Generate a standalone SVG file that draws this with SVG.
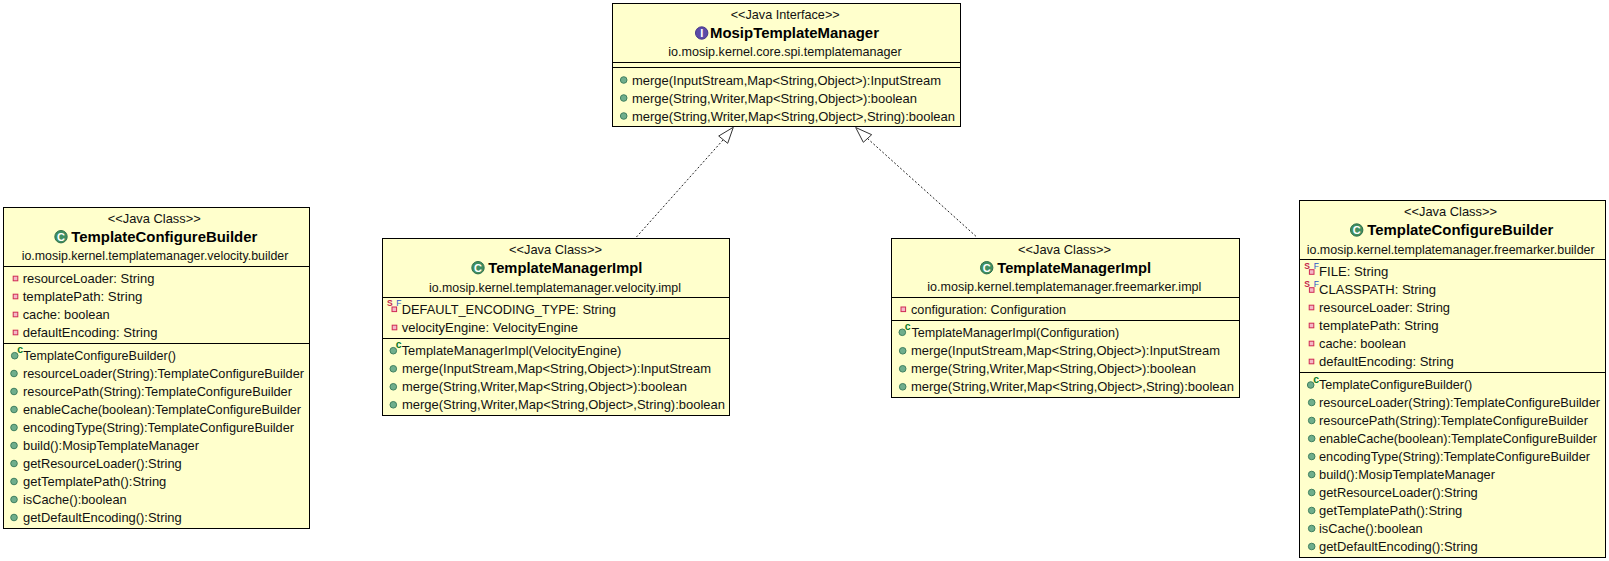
<svg xmlns="http://www.w3.org/2000/svg" xmlns:xlink="http://www.w3.org/1999/xlink" width="1609" height="561" viewBox="0 0 1609 561">
<style>
text{font-family:"Liberation Sans",Arial,sans-serif;font-size:13px;fill:#111}
.n{font-weight:bold;font-size:15px;fill:#000}
.box{fill:#ffffcc;stroke:#000;stroke-width:1}
.sep{stroke:#000;stroke-width:1;fill:none}
.dep{stroke:#222;stroke-width:1;stroke-dasharray:2 2;fill:none}
.head{stroke:#333;stroke-width:1;fill:#fff}
.ic{font-size:11px;font-weight:bold;fill:#fff;text-anchor:middle}
.sm{font-size:8.5px;text-anchor:middle}
</style>
<defs>
<g id="dot"><circle r="3.3" fill="#6fae8c" stroke="#3f7f5f" stroke-width="1"/></g>
<g id="priv"><rect x="-2.3" y="-2.3" width="4.6" height="4.6" fill="#f4b8c6" stroke="#cf2a55" stroke-width="1"/></g>
<g id="cls"><circle r="6.2" fill="#3f8f62" stroke="#2f6f4a" stroke-width="1"/><text class="ic" y="3.9">C</text></g>
<g id="ifc"><circle r="6.2" fill="#5b4aa8" stroke="#45368a" stroke-width="1"/><text class="ic" y="3.9">I</text></g>
<g id="ctor"><use href="#dot"/><text class="sm" x="5.4" y="-2.5" style="fill:#0a7a2a;font-size:10.5px;font-weight:bold">c</text></g>
<g id="sf"><use href="#priv"/><text class="sm" x="-4.6" y="-3" style="fill:#c4244c;font-weight:bold">S</text><text class="sm" x="4.6" y="-3" style="fill:#2a56c6">F</text></g>
</defs>
<g id="connectors">
<path class="dep" d="M723 140L636 237.5"/>
<path class="head" d="M733.3 127.3L718.7 136L727.7 143.3Z"/>
<path class="dep" d="M867.5 138.5L977.3 237.5"/>
<path class="head" d="M855.7 127.5L871.7 134.7L863.3 142.3Z"/>
</g>
<g id="mosip-template-manager">
<rect class="box" x="612.5" y="3.5" width="348" height="123"/>
<path class="sep" d="M612.5 62.5H960.5M612.5 67.5H960.5"/>
<text x="730.7" y="19" textLength="109" lengthAdjust="spacingAndGlyphs">&lt;&lt;Java Interface&gt;&gt;</text>
<use href="#ifc" x="701.7" y="33"/>
<text class="n" x="710" y="38" textLength="169" lengthAdjust="spacingAndGlyphs">MosipTemplateManager</text>
<text x="668.3" y="56" textLength="233.4" lengthAdjust="spacingAndGlyphs">io.mosip.kernel.core.spi.templatemanager</text>
<use href="#dot" x="623.7" y="80"/>
<text x="632" y="84.5" textLength="309" lengthAdjust="spacingAndGlyphs">merge(InputStream,Map&lt;String,Object&gt;):InputStream</text>
<use href="#dot" x="623.7" y="98"/>
<text x="632" y="102.5" textLength="285" lengthAdjust="spacingAndGlyphs">merge(String,Writer,Map&lt;String,Object&gt;):boolean</text>
<use href="#dot" x="623.7" y="116"/>
<text x="632" y="120.5" textLength="323" lengthAdjust="spacingAndGlyphs">merge(String,Writer,Map&lt;String,Object&gt;,String):boolean</text>
</g>
<g id="builder-velocity">
<rect class="box" x="3.5" y="207.5" width="306" height="321"/>
<path class="sep" d="M3.5 266.5H309.5M3.5 343.5H309.5"/>
<text x="107.7" y="223" textLength="93" lengthAdjust="spacingAndGlyphs">&lt;&lt;Java Class&gt;&gt;</text>
<use href="#cls" x="61" y="236.7"/>
<text class="n" x="71.3" y="242" textLength="186" lengthAdjust="spacingAndGlyphs">TemplateConfigureBuilder</text>
<text x="21.7" y="260" textLength="266.6" lengthAdjust="spacingAndGlyphs">io.mosip.kernel.templatemanager.velocity.builder</text>
<use href="#priv" x="15.5" y="278.5"/>
<text x="22.7" y="283" textLength="131.7" lengthAdjust="spacingAndGlyphs">resourceLoader: String</text>
<use href="#priv" x="15.5" y="296.5"/>
<text x="22.7" y="301" textLength="119.7" lengthAdjust="spacingAndGlyphs">templatePath: String</text>
<use href="#priv" x="15.5" y="314.5"/>
<text x="22.7" y="319" textLength="87" lengthAdjust="spacingAndGlyphs">cache: boolean</text>
<use href="#priv" x="15.5" y="332.5"/>
<text x="22.7" y="337" textLength="134.7" lengthAdjust="spacingAndGlyphs">defaultEncoding: String</text>
<use href="#ctor" x="14.7" y="355.7"/>
<text x="23.3" y="360" textLength="152.7" lengthAdjust="spacingAndGlyphs">TemplateConfigureBuilder()</text>
<use href="#dot" x="14" y="373.5"/>
<text x="23" y="378" textLength="281" lengthAdjust="spacingAndGlyphs">resourceLoader(String):TemplateConfigureBuilder</text>
<use href="#dot" x="14" y="391.5"/>
<text x="23" y="396" textLength="269" lengthAdjust="spacingAndGlyphs">resourcePath(String):TemplateConfigureBuilder</text>
<use href="#dot" x="14" y="409.5"/>
<text x="23" y="414" textLength="278" lengthAdjust="spacingAndGlyphs">enableCache(boolean):TemplateConfigureBuilder</text>
<use href="#dot" x="14" y="427.5"/>
<text x="23" y="432" textLength="271" lengthAdjust="spacingAndGlyphs">encodingType(String):TemplateConfigureBuilder</text>
<use href="#dot" x="14" y="445.5"/>
<text x="23" y="450" textLength="176" lengthAdjust="spacingAndGlyphs">build():MosipTemplateManager</text>
<use href="#dot" x="14" y="463.5"/>
<text x="23" y="468" textLength="158.7" lengthAdjust="spacingAndGlyphs">getResourceLoader():String</text>
<use href="#dot" x="14" y="481.5"/>
<text x="23" y="486" textLength="143.3" lengthAdjust="spacingAndGlyphs">getTemplatePath():String</text>
<use href="#dot" x="14" y="499.5"/>
<text x="23" y="504" textLength="103.7" lengthAdjust="spacingAndGlyphs">isCache():boolean</text>
<use href="#dot" x="14" y="517.5"/>
<text x="23" y="522" textLength="158.7" lengthAdjust="spacingAndGlyphs">getDefaultEncoding():String</text>
</g>
<g id="manager-velocity">
<rect class="box" x="382.5" y="238.5" width="347" height="177"/>
<path class="sep" d="M382.5 297.5H729.5M382.5 338.5H729.5"/>
<text x="509" y="254" textLength="93" lengthAdjust="spacingAndGlyphs">&lt;&lt;Java Class&gt;&gt;</text>
<use href="#cls" x="478" y="267.7"/>
<text class="n" x="488.3" y="273" textLength="154" lengthAdjust="spacingAndGlyphs">TemplateManagerImpl</text>
<text x="429" y="291.5" textLength="252" lengthAdjust="spacingAndGlyphs">io.mosip.kernel.templatemanager.velocity.impl</text>
<use href="#sf" x="394.3" y="309.3"/>
<text x="401.7" y="314" textLength="214.3" lengthAdjust="spacingAndGlyphs">DEFAULT_ENCODING_TYPE: String</text>
<use href="#priv" x="394.5" y="327.5"/>
<text x="401.7" y="332" textLength="176.3" lengthAdjust="spacingAndGlyphs">velocityEngine: VelocityEngine</text>
<use href="#ctor" x="393.3" y="350.7"/>
<text x="401.7" y="355.3" textLength="219.6" lengthAdjust="spacingAndGlyphs">TemplateManagerImpl(VelocityEngine)</text>
<use href="#dot" x="393.3" y="368.8"/>
<text x="402" y="373.3" textLength="309" lengthAdjust="spacingAndGlyphs">merge(InputStream,Map&lt;String,Object&gt;):InputStream</text>
<use href="#dot" x="393.3" y="386.8"/>
<text x="402" y="391.3" textLength="285" lengthAdjust="spacingAndGlyphs">merge(String,Writer,Map&lt;String,Object&gt;):boolean</text>
<use href="#dot" x="393.3" y="404.8"/>
<text x="402" y="409.3" textLength="323" lengthAdjust="spacingAndGlyphs">merge(String,Writer,Map&lt;String,Object&gt;,String):boolean</text>
</g>
<g id="manager-freemarker">
<rect class="box" x="891.5" y="238.5" width="348" height="159"/>
<path class="sep" d="M891.5 297.5H1239.5M891.5 320.5H1239.5"/>
<text x="1018" y="254" textLength="93" lengthAdjust="spacingAndGlyphs">&lt;&lt;Java Class&gt;&gt;</text>
<use href="#cls" x="986.7" y="267.7"/>
<text class="n" x="997.3" y="273" textLength="153.7" lengthAdjust="spacingAndGlyphs">TemplateManagerImpl</text>
<text x="927.3" y="291.3" textLength="274" lengthAdjust="spacingAndGlyphs">io.mosip.kernel.templatemanager.freemarker.impl</text>
<use href="#priv" x="903.3" y="309.3"/>
<text x="911" y="314" textLength="155" lengthAdjust="spacingAndGlyphs">configuration: Configuration</text>
<use href="#ctor" x="902.3" y="332.3"/>
<text x="911.5" y="337.3" textLength="207.8" lengthAdjust="spacingAndGlyphs">TemplateManagerImpl(Configuration)</text>
<use href="#dot" x="902.7" y="350.8"/>
<text x="911" y="355.3" textLength="309" lengthAdjust="spacingAndGlyphs">merge(InputStream,Map&lt;String,Object&gt;):InputStream</text>
<use href="#dot" x="902.7" y="368.8"/>
<text x="911" y="373.3" textLength="285" lengthAdjust="spacingAndGlyphs">merge(String,Writer,Map&lt;String,Object&gt;):boolean</text>
<use href="#dot" x="902.7" y="386.8"/>
<text x="911" y="391.3" textLength="323" lengthAdjust="spacingAndGlyphs">merge(String,Writer,Map&lt;String,Object&gt;,String):boolean</text>
</g>
<g id="builder-freemarker">
<rect class="box" x="1299.5" y="200.5" width="306" height="357"/>
<path class="sep" d="M1299.5 259.5H1605.5M1299.5 372.5H1605.5"/>
<text x="1404" y="216" textLength="93" lengthAdjust="spacingAndGlyphs">&lt;&lt;Java Class&gt;&gt;</text>
<use href="#cls" x="1356.7" y="230"/>
<text class="n" x="1367.3" y="235" textLength="186" lengthAdjust="spacingAndGlyphs">TemplateConfigureBuilder</text>
<text x="1306.7" y="253.5" textLength="288" lengthAdjust="spacingAndGlyphs">io.mosip.kernel.templatemanager.freemarker.builder</text>
<use href="#sf" x="1311.7" y="272"/>
<text x="1319" y="276" textLength="69.3" lengthAdjust="spacingAndGlyphs">FILE: String</text>
<use href="#sf" x="1311.7" y="290"/>
<text x="1319" y="294" textLength="117" lengthAdjust="spacingAndGlyphs">CLASSPATH: String</text>
<use href="#priv" x="1311.5" y="307.5"/>
<text x="1319" y="312" textLength="131" lengthAdjust="spacingAndGlyphs">resourceLoader: String</text>
<use href="#priv" x="1311.5" y="325.5"/>
<text x="1319" y="330" textLength="119.7" lengthAdjust="spacingAndGlyphs">templatePath: String</text>
<use href="#priv" x="1311.5" y="343.5"/>
<text x="1319" y="348" textLength="87" lengthAdjust="spacingAndGlyphs">cache: boolean</text>
<use href="#priv" x="1311.5" y="361.5"/>
<text x="1319" y="366" textLength="134.7" lengthAdjust="spacingAndGlyphs">defaultEncoding: String</text>
<use href="#ctor" x="1310.7" y="385"/>
<text x="1319" y="389" textLength="153.3" lengthAdjust="spacingAndGlyphs">TemplateConfigureBuilder()</text>
<use href="#dot" x="1311.7" y="402.5"/>
<text x="1319" y="407" textLength="281" lengthAdjust="spacingAndGlyphs">resourceLoader(String):TemplateConfigureBuilder</text>
<use href="#dot" x="1311.7" y="420.5"/>
<text x="1319" y="425" textLength="269" lengthAdjust="spacingAndGlyphs">resourcePath(String):TemplateConfigureBuilder</text>
<use href="#dot" x="1311.7" y="438.5"/>
<text x="1319" y="443" textLength="278" lengthAdjust="spacingAndGlyphs">enableCache(boolean):TemplateConfigureBuilder</text>
<use href="#dot" x="1311.7" y="456.5"/>
<text x="1319" y="461" textLength="271" lengthAdjust="spacingAndGlyphs">encodingType(String):TemplateConfigureBuilder</text>
<use href="#dot" x="1311.7" y="474.5"/>
<text x="1319" y="479" textLength="176" lengthAdjust="spacingAndGlyphs">build():MosipTemplateManager</text>
<use href="#dot" x="1311.7" y="492.5"/>
<text x="1319" y="497" textLength="158.7" lengthAdjust="spacingAndGlyphs">getResourceLoader():String</text>
<use href="#dot" x="1311.7" y="510.5"/>
<text x="1319" y="515" textLength="143.3" lengthAdjust="spacingAndGlyphs">getTemplatePath():String</text>
<use href="#dot" x="1311.7" y="528.5"/>
<text x="1319" y="533" textLength="103.7" lengthAdjust="spacingAndGlyphs">isCache():boolean</text>
<use href="#dot" x="1311.7" y="546.5"/>
<text x="1319" y="551" textLength="158.7" lengthAdjust="spacingAndGlyphs">getDefaultEncoding():String</text>
</g>
</svg>
